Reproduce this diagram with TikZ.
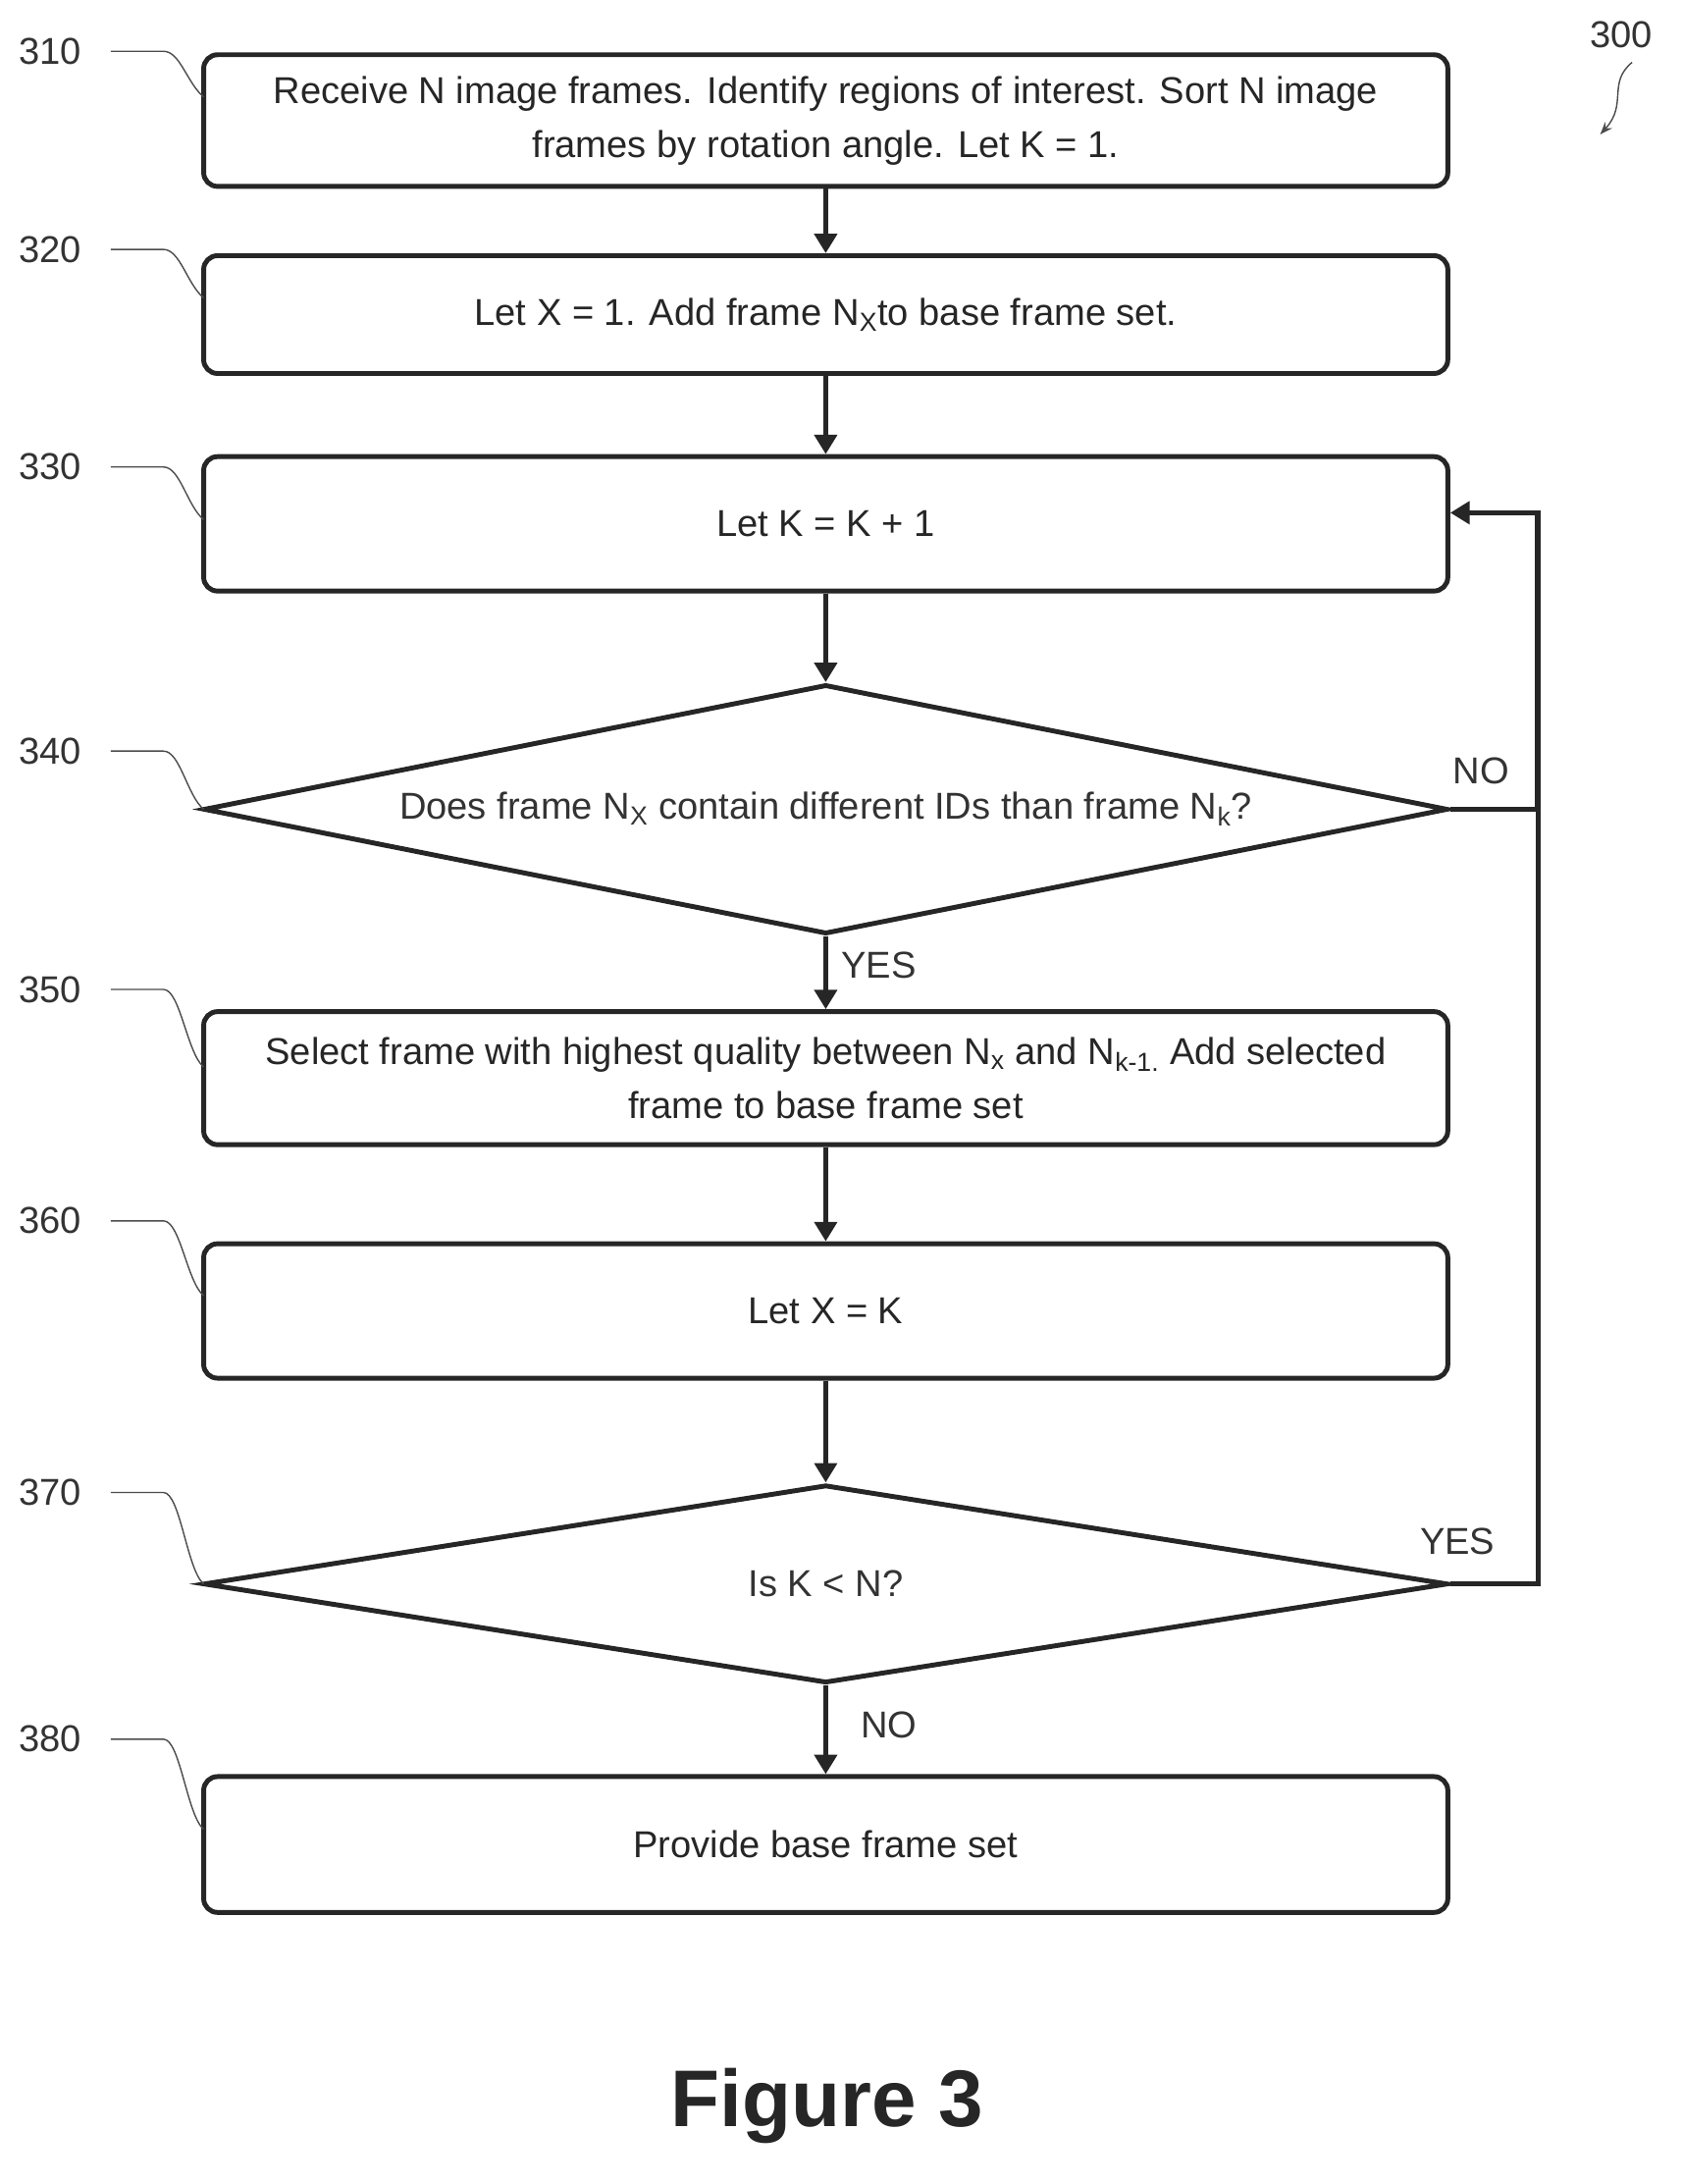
\documentclass[tikz,border=0pt]{standalone}
\usepackage{fontspec}
\setmainfont{Liberation Sans}
\usetikzlibrary{shapes.geometric,arrows.meta}
\begin{document}
\begin{tikzpicture}[x=1pt,y=-1pt,
  box/.style={draw,line width=3.5pt,rounded corners=10pt,minimum width=898pt,align=center,font=\fontsize{27}{39}\selectfont,color=black!85},
  dia/.style={draw,line width=3.5pt,diamond,aspect=5,minimum width=898pt,font=\fontsize{27}{30}\selectfont,color=black!85,inner sep=0pt},
  arr/.style={line width=4pt,-{Triangle[length=14pt,width=16pt]},color=black!85},
  lbl/.style={font=\fontsize{27}{30}\selectfont,color=black!80},
  lead/.style={line width=1pt,color=black!70}]
\useasboundingbox (0,0) rectangle (1214,1576);
\node[box,minimum height=95pt] (b310) at (596,87) {Receive N image frames. Identify regions of interest. Sort N image\\frames by rotation angle. Let K = 1.};
\node[box,minimum height=85pt] (b320) at (596,227) {Let X = 1. Add frame N\textsubscript{X}to base frame set.};
\node[box,minimum height=97pt] (b330) at (596,378) {Let K = K + 1};
\node[dia,minimum height=180pt] (d340) at (596,584) {};
\node[lbl] at (596,584) {Does frame N\textsubscript{X} contain different IDs than frame N\textsubscript{k}?};
\node[box,minimum height=96pt] (b350) at (596,778) {Select frame with highest quality between N\textsubscript{x} and N\textsubscript{k-1.} Add selected\\frame to base frame set};
\node[box,minimum height=97pt] (b360) at (596,946) {Let X = K};
\node[dia,minimum height=143pt] (d370) at (596,1143) {};
\node[lbl] at (596,1143) {Is K < N?};
\node[box,minimum height=98pt] (b380) at (596,1331) {Provide base frame set};
\draw[arr] (b310) -- (b320);
\draw[arr] (b320) -- (b330);
\draw[arr] (b330) -- (d340);
\draw[arr] (d340) -- node[lbl,right,pos=0.4,xshift=6pt]{YES} (b350);
\draw[arr] (b350) -- (b360);
\draw[arr] (b360) -- (d370);
\draw[arr] (d370) -- node[lbl,right,pos=0.45,xshift=20pt]{NO} (b380);
\coordinate (c1) at (1110,584);
\coordinate (c2) at (1110,1143);
\coordinate (c3) at (1110,370);
\draw[line width=3.5pt,color=black!85] (d370.east) -- (c2) -- (c1);
\draw[arr] (d340.east) -- (c1) -- (c3) -- (b330.east |- c3);
\node[lbl] at (1069,556) {NO};
\node[lbl] at (1052,1112) {YES};
\foreach \n/\y/\ty in {310/37/70,320/180/215,330/337/375,340/542/584,350/714/770,360/881/935,370/1077/1143,380/1255/1320}{
  \node[lbl] (l\n) at (36,\y) {\n};
  \coordinate (e\n) at (147,\ty);
  \draw[lead] (80,\y) -- (118,\y) .. controls (130,\y) and (135,\ty-10) .. (e\n);
}
\node[lbl] (l300) at (1170,25) {300};
\coordinate (e300) at (1155,97);
\draw[lead,-{Stealth[length=9pt]}] (1178,45) .. controls (1160,60) and (1175,75) .. (e300);
\node[font=\bfseries\fontsize{58}{60}\selectfont,color=black!85] (fig) at (597,1520) {Figure 3};
\end{tikzpicture}
\end{document}
